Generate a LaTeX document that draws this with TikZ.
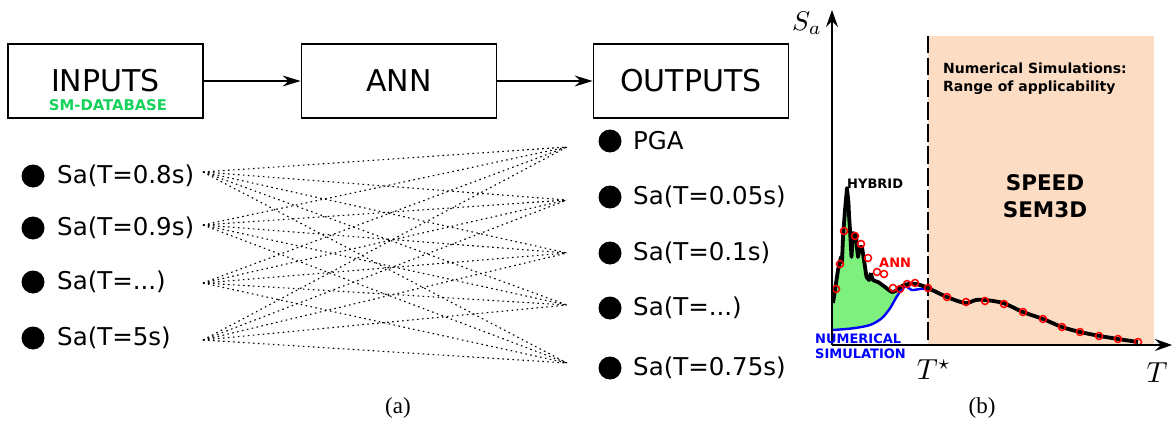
\documentclass[tikz,border=0pt]{standalone}
\usepackage{fontspec}
\setmainfont{DejaVu Sans}
\newfontfamily\capfont{Liberation Serif}
\usetikzlibrary{arrows.meta}
\definecolor{dbgreen}{RGB}{20,210,90}
\definecolor{hybgreen}{RGB}{125,240,125}
\definecolor{peach}{RGB}{253,220,196}
\tikzset{
  block/.style={draw, line width=1.8pt, minimum width=195pt, minimum height=74pt,
    inner sep=0pt, font=\fontsize{30}{36}\selectfont},
  flow/.style={-{Stealth[length=18pt, width=11pt, inset=6pt]}, line width=1.2pt},
  dot/.style={circle, fill, inner sep=0pt, minimum size=23pt},
  item/.style={anchor=west, inner sep=0pt, font=\fontsize{24.5}{29}\selectfont},
  link/.style={line width=1.1pt, dash pattern=on 1.6pt off 3.4pt},
  axis/.style={-{Stealth[length=17pt, width=12pt, inset=6pt]}, line width=1.4pt},
  small/.style={inner sep=0pt, font=\fontsize{13}{15}\selectfont\bfseries},
  anncirc/.style={red, line width=1.5pt},
  mathlab/.style={inner sep=0pt, font=\fontsize{10}{12}\selectfont},
}
\begin{document}
\begin{tikzpicture}[x=1pt, y=-1pt]
\useasboundingbox (0,0) rectangle (1176,428);
% (a) network
\node[block] (inputs) at (105.5,81) {INPUTS};
\node[block] (ann) at (399,81) {ANN};
\node[block] (outputs) at (691,81) {OUTPUTS};
\node[inner sep=0pt, text=dbgreen, font=\fontsize{14.8}{17}\selectfont\bfseries] (db) at (108,105) {SM-DATABASE};
\draw[flow] (inputs) -- (ann);
\draw[flow] (ann) -- (outputs);

\node[dot] (d1) at (33,176) {};
\node[dot] (d2) at (33,228) {};
\node[dot] (d3) at (33,282) {};
\node[dot] (d4) at (33,338) {};
\node[item] (in1) at (57,176) {Sa(T=0.8s)};
\node[item] (in2) at (57,228) {Sa(T=0.9s)};
\node[item] (in3) at (57,282) {Sa(T=...)};
\node[item] (in4) at (57,338) {Sa(T=5s)};

\node[dot] (e1) at (610,141) {};
\node[dot] (e2) at (610,197) {};
\node[dot] (e3) at (610,253) {};
\node[dot] (e4) at (610,308) {};
\node[dot] (e5) at (610,368) {};
\node[item] (out1) at (633,141) {PGA};
\node[item] (out2) at (633,197) {Sa(T=0.05s)};
\node[item] (out3) at (633,253) {Sa(T=0.1s)};
\node[item] (out4) at (633,308) {Sa(T=...)};
\node[item] (out5) at (633,368) {Sa(T=0.75s)};

\coordinate (a1) at (203,172);
\coordinate (a2) at (203,225);
\coordinate (a3) at (203,283);
\coordinate (a4) at (203,340);
\coordinate (b1) at (567,147);
\coordinate (b2) at (567,200);
\coordinate (b3) at (567,253);
\coordinate (b4) at (567,305);
\coordinate (b5) at (567,363);
\foreach \i in {1,...,4}
  \foreach \j in {1,...,5}
    \draw[link] (a\i) -- (b\j);

\node[font=\capfont\fontsize{23}{27}\selectfont] (capa) at (398,408) {(a)};

% (b) spectra
\coordinate (O) at (832,345);
\coordinate (Y) at (832,10);
\coordinate (X) at (1172,345);
\coordinate (Ts) at (928,345);
\fill[peach] (928,36) rectangle (1154,345);
\draw[line width=2.6pt, dash pattern=on 17.5pt off 4.5pt] (928,36) -- (Ts);

\fill[hybgreen] (833,303) -- (835,290) -- (838,270) -- (841,257) -- (843,237) -- (845,210)
  -- (847,188) -- (848.5,203) -- (850,230) -- (851.5,257) -- (853,233) -- (856,235)
  -- (858,257) -- (860,247) -- (862,247) -- (864,260) -- (866.5,277) -- (869,280)
  -- (871,273) -- (873,280) -- (878,282) -- (885,287) -- (892,292) -- (897,290)
  -- (902.7,288.3) -- (896.7,296.7) -- (890,308.3) -- (881.7,318.3) -- (870,325)
  -- (853,328.3) -- (833,330) -- cycle;
\draw[blue, line width=2.4pt] plot[smooth, tension=0.5] coordinates {(833,330) (853,328.3)
  (870,325) (881.7,318.3) (890,308.3) (896.7,296.7) (902.7,288.3) (906.7,286.7)
  (911.7,290) (920,289) (928,289) (945,296) (960,302)};
\draw[line width=3.8pt, line join=round] plot coordinates {(833,303) (835,290) (838,270)
  (841,257) (842,262) (843,237) (845,210) (847,188) (848.5,203) (849,215) (850,230)
  (851.5,257) (853,233) (856,235) (857,248) (858,257) (860,247) (862,247) (864,260)
  (866.5,277) (869,280) (871,273)}
  plot[smooth, tension=0.5] coordinates {(871,273) (873,280) (878,282) (885,287)
  (892,292) (897,290) (903,285.5) (912,283.5) (920,285) (928,288) (947,297) (965,303)
  (976,300) (985,300) (1003,303) (1023,312) (1043,319) (1062,327) (1080,332)
  (1100,336) (1118,339) (1138,342)};
\foreach \p in {(836,289), (840,264), (844,231), (855,236), (861,244), (868,258),
  (877,272), (884,274), (893,288), (900,289), (907,284), (915,283), (928,288),
  (947,297), (966,302), (985,301), (1004,304), (1023,312), (1043,319), (1062,327),
  (1080,332), (1099,336), (1118,339), (1138,342)}
  \draw[anncirc] \p circle (3.5pt);

\draw[axis] (O) -- (Y);
\draw[axis] (O) -- (X);
\node[mathlab, scale=2.7] (sa) at (807,23) {$S_a$};
\node[mathlab, scale=2.9] (tstar) at (934,370) {$T^\star$};
\node[mathlab, scale=2.9] (tlab) at (1157,373) {$T$};

\node[small, font=\fontsize{14}{18}\selectfont\bfseries, anchor=west, align=left] (range) at (943,79)
  {Numerical Simulations:\\Range of applicability};
\node[small, font=\fontsize{21.5}{27}\selectfont\bfseries, align=center] (speed) at (1045,196)
  {SPEED\\SEM3D};
\node[small, anchor=west] (hyb) at (847,184) {HYBRID};
\node[small, anchor=west, text=red] (annlab) at (879,263) {ANN};
\node[small, anchor=west, text=blue, align=left] (num) at (815,346)
  {NUMERICAL\\SIMULATION};

\node[font=\capfont\fontsize{23}{27}\selectfont] (capb) at (982,408) {(b)};
\end{tikzpicture}
\end{document}
